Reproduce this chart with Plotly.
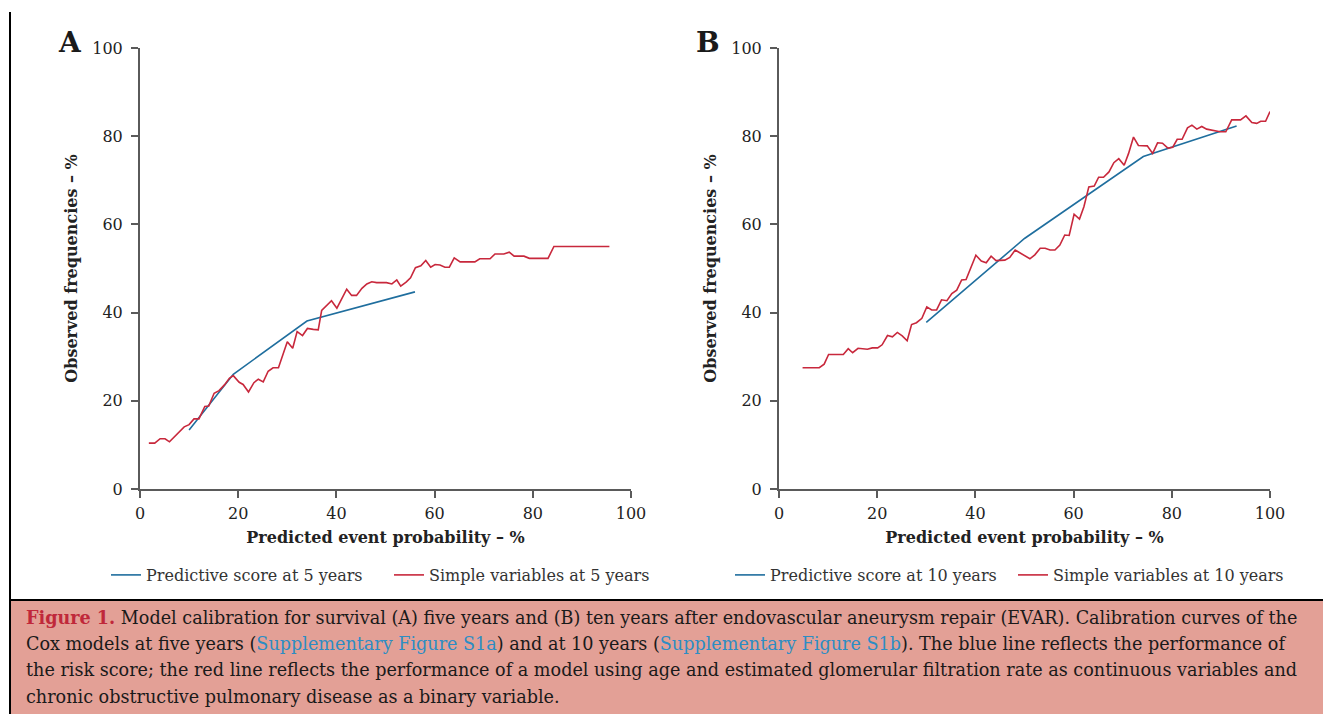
import plotly.graph_objects as go

# ---------------- data ----------------
ticks = [0, 20, 40, 60, 80, 100]

a_score_x = [10, 19, 34, 56]
a_score_y = [13.4, 26.0, 38.1, 44.7]

a_simple_x = [1.8, 3.0, 4.1, 5.1, 6.0, 7.5, 9.0, 10.0, 11.0, 12.0, 13.2, 14.0, 15.1, 16.1, 17.2, 18.2,
              19.0, 20.2, 21.0, 22.1, 23.2, 24.1, 25.1, 26.1, 27.1, 28.2, 30.0, 31.1, 32.0, 33.1, 34.1,
              35.3, 36.3, 37.0, 38.0, 39.0, 40.1, 41.1, 42.1, 43.1, 44.1, 45.2, 46.2, 47.2, 48.2, 50.2,
              51.3, 52.3, 53.1, 54.2, 55.1, 56.1, 57.2, 58.2, 59.2, 60.1, 61.1, 62.1, 63.0, 64.0, 65.2,
              68.2, 69.2, 71.3, 72.3, 74.1, 75.2, 76.2, 78.2, 79.3, 83.1, 84.3, 95.6]
a_simple_y = [10.4, 10.4, 11.4, 11.4, 10.7, 12.3, 14.1, 14.6, 15.9, 15.9, 18.7, 18.8, 21.7, 22.3, 23.6, 25.1,
              25.7, 24.2, 23.7, 22.0, 24.1, 24.9, 24.3, 26.7, 27.5, 27.5, 33.4, 31.9, 35.7, 34.8, 36.4,
              36.2, 36.1, 40.5, 41.6, 42.7, 41.0, 43.0, 45.3, 43.9, 43.9, 45.5, 46.5, 47.0, 46.8, 46.8,
              46.5, 47.4, 46.0, 46.9, 47.9, 50.2, 50.6, 51.8, 50.3, 50.9, 50.8, 50.3, 50.3, 52.4, 51.5,
              51.5, 52.2, 52.2, 53.3, 53.3, 53.7, 52.8, 52.8, 52.3, 52.3, 55.0, 55.0]

b_score_x = [30, 50, 74.2, 93.2]
b_score_y = [37.8, 56.8, 75.4, 82.3]

b_simple_x = [4.8, 8.2, 9.2, 10.1, 13.1, 14.1, 15.0, 16.1, 18.0, 19.0, 20.1, 21.0, 22.1, 23.1, 24.1, 25.1,
              26.1, 27.0, 28.0, 29.1, 30.1, 31.1, 32.1, 33.1, 34.2, 35.2, 36.2, 37.2, 38.1, 39.2, 40.1,
              41.2, 42.2, 43.2, 44.2, 46.0, 47.0, 48.1, 51.1, 52.1, 53.2, 54.2, 55.2, 56.2, 57.2, 58.2,
              59.1, 60.1, 61.2, 62.1, 63.1, 64.2, 65.1, 66.1, 67.2, 68.2, 69.2, 70.3, 71.2, 72.2, 73.2,
              75.0, 76.1, 77.1, 78.1, 79.2, 80.2, 81.1, 82.1, 83.2, 84.1, 85.1, 86.1, 87.1, 88.1, 89.8,
              91.0, 92.2, 94.0, 95.1, 96.3, 97.3, 98.1, 99.1, 100.0]
b_simple_y = [27.5, 27.5, 28.3, 30.5, 30.5, 31.8, 30.9, 31.9, 31.7, 32.0, 32.0, 32.7, 34.8, 34.5, 35.5, 34.7,
              33.6, 37.3, 37.7, 38.7, 41.3, 40.6, 40.6, 42.9, 42.7, 44.3, 45.1, 47.4, 47.5, 50.3, 53.0,
              51.7, 51.3, 52.8, 51.8, 51.9, 52.5, 54.2, 52.2, 53.1, 54.6, 54.6, 54.2, 54.2, 55.3, 57.6,
              57.5, 62.3, 61.2, 64.0, 68.5, 68.7, 70.7, 70.7, 71.9, 74.0, 74.9, 73.4, 76.1, 79.8, 77.9,
              77.8, 76.1, 78.5, 78.4, 77.3, 77.5, 79.3, 79.3, 81.9, 82.5, 81.6, 82.2, 81.6, 81.4, 81.0,
              81.0, 83.7, 83.7, 84.6, 83.1, 82.9, 83.4, 83.4, 85.6]

caption_lines = [
    "<b><span style='color:#c0283a'>Figure 1.</span></b> Model calibration for survival (A) five years and (B) ten years after endovascular aneurysm repair (EVAR). Calibration curves of the",
    "Cox models at five years (<span style='color:#2d8dc4'>Supplementary Figure S1a</span>) and at 10 years (<span style='color:#2d8dc4'>Supplementary Figure S1b</span>). The blue line reflects the performance of",
    "the risk score; the red line reflects the performance of a model using age and estimated glomerular filtration rate as continuous variables and",
    "chronic obstructive pulmonary disease as a binary variable.",
]

# ---------------- styling ----------------
W, H = 1331, 714
OFF = 8  # page body margin offset
SERIF = "DejaVu Serif"
BLUE = "#1f6e9e"
RED = "#c8283c"
AX = "#5a5a5a"


def py(px):
    return 1 - (px - OFF) / H


def pxx(px):
    return (px - OFF) / W


fig = go.Figure()
fig.add_trace(go.Scatter(x=a_score_x, y=a_score_y, mode="lines", name="Predictive score at 5 years",
                         line=dict(color=BLUE, width=1.6), xaxis="x", yaxis="y", legend="legend"))
fig.add_trace(go.Scatter(x=a_simple_x, y=a_simple_y, mode="lines", name="Simple variables at 5 years",
                         line=dict(color=RED, width=1.6), xaxis="x", yaxis="y", legend="legend"))
fig.add_trace(go.Scatter(x=b_score_x, y=b_score_y, mode="lines", name="Predictive score at 10 years",
                         line=dict(color=BLUE, width=1.6), xaxis="x2", yaxis="y2", legend="legend2"))
fig.add_trace(go.Scatter(x=b_simple_x, y=b_simple_y, mode="lines", name="Simple variables at 10 years",
                         line=dict(color=RED, width=1.6), xaxis="x2", yaxis="y2", legend="legend2"))

ydom = [py(489), py(48)]
axis_common = dict(range=[0, 100], tickvals=ticks, showgrid=False, zeroline=False, showline=True,
                   linecolor=AX, linewidth=2, ticks="outside", ticklen=7, tickwidth=1.5, tickcolor=AX,
                   tickfont=dict(family=SERIF, size=16, color="#222"), automargin=False, fixedrange=True)
xtitle = dict(text="<b>Predicted event probability – %</b>", font=dict(family=SERIF, size=16, color="#222"), standoff=10)
ytitle = dict(text="<b>Observed frequencies – %</b>", font=dict(family=SERIF, size=16, color="#222"), standoff=11)

legend_font = dict(family=SERIF, size=16, color="#333")
fig.update_layout(
    width=W, height=H, margin=dict(l=0, r=0, t=0, b=0),
    paper_bgcolor="white", plot_bgcolor="white",
    font=dict(family=SERIF, color="#222"),
    xaxis=dict(domain=[pxx(140), pxx(631)], anchor="y", title=xtitle, ticklabelstandoff=2, **axis_common),
    yaxis=dict(domain=ydom, anchor="x", title=ytitle, ticklabelstandoff=5, **axis_common),
    xaxis2=dict(domain=[pxx(779), pxx(1270)], anchor="y2", title=xtitle, ticklabelstandoff=2, **axis_common),
    yaxis2=dict(domain=ydom, anchor="x2", title=ytitle, ticklabelstandoff=5, **axis_common),
    legend=dict(orientation="h", x=pxx(106), xanchor="left", y=py(575), yanchor="middle",
                font=legend_font, bgcolor="rgba(0,0,0,0)",
                itemwidth=30, entrywidth=238, entrywidthmode="pixels", tracegroupgap=0),
    legend2=dict(orientation="h", x=pxx(730), xanchor="left", y=py(575), yanchor="middle",
                 font=legend_font, bgcolor="rgba(0,0,0,0)",
                 itemwidth=30, entrywidth=238, entrywidthmode="pixels", tracegroupgap=0),
    showlegend=True,
)

# caption box and frame lines
fig.add_shape(type="rect", xref="paper", yref="paper", x0=pxx(10), x1=1.02, y0=-0.02, y1=py(600),
              fillcolor="#e3a096", line=dict(width=0), layer="below")
fig.add_shape(type="line", xref="paper", yref="paper", x0=pxx(10), x1=1.02, y0=py(600), y1=py(600),
              line=dict(color="black", width=2))
fig.add_shape(type="line", xref="paper", yref="paper", x0=pxx(10), x1=pxx(10), y0=-0.02, y1=py(12),
              line=dict(color="black", width=2))

# panel labels
for lab, xpx in (("A", 70), ("B", 708)):
    fig.add_annotation(text=f"<b>{lab}</b>", xref="paper", yref="paper", x=pxx(xpx), y=py(42),
                       xanchor="center", yanchor="middle", showarrow=False,
                       font=dict(family=SERIF, size=28, color="#1a1a1a"))

# caption lines
for i, line in enumerate(caption_lines):
    fig.add_annotation(text=line, xref="paper", yref="paper", x=pxx(24), y=py(617 + i * 26.7),
                       xanchor="left", yanchor="middle", showarrow=False, align="left",
                       font=dict(family=SERIF, size=17.6, color="#1a1a1a"))

fig.write_html("out.html")
